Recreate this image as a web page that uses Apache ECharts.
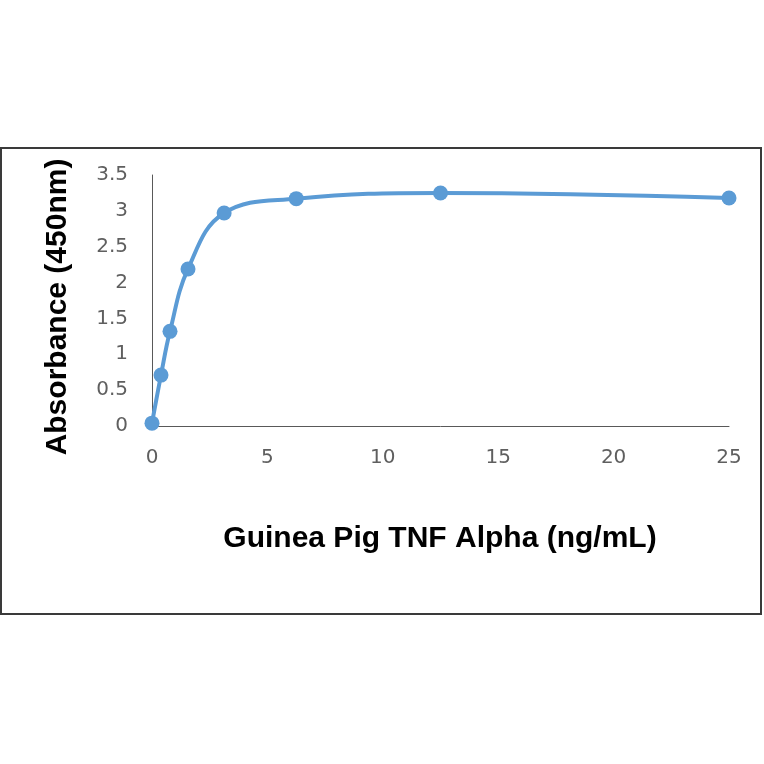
<!DOCTYPE html>
<html>
<head>
<meta charset="utf-8">
<script src="https://cdn.jsdelivr.net/npm/echarts@6/dist/echarts.min.js"></script>
<style>
  html, body { margin: 0; padding: 0; background: #fff; }
  #chart { width: 764px; height: 764px; }
</style>
</head>
<body>
<div id="chart"></div>
<script>
// concentration (ng/mL) and absorbance
const concentrations = [0, 0.39, 0.78, 1.56, 3.125, 6.25, 12.5, 25];
const absorbance = [0.04, 0.71, 1.32, 2.19, 2.97, 3.17, 3.25, 3.18];
const xTitle = 'Guinea Pig TNF Alpha (ng/mL)';
const yTitle = 'Absorbance (450nm)';

const points = concentrations.map((c, i) => [c, absorbance[i]]);

const chart = echarts.init(document.getElementById('chart'));

const tickLabel = {
  color: '#5f5f5f',
  fontFamily: 'DejaVu Sans',
  fontSize: 20,
};

const titleFont = {
  fontFamily: 'Liberation Sans',
  fontWeight: 'bold',
  fontSize: 30,
  fill: '#000',
};

chart.setOption({
  animation: false,
  graphic: [
    {
      type: 'rect',
      shape: { x: 1, y: 148, width: 760, height: 466 },
      style: { fill: 'none', stroke: '#3a3a3a', lineWidth: 2 },
      z: -1,
    },
    {
      type: 'text',
      x: 440,
      y: 539,
      style: { text: xTitle, align: 'center', verticalAlign: 'middle', ...titleFont },
    },
    {
      type: 'text',
      x: 58,
      y: 307,
      rotation: Math.PI / 2,
      style: { text: yTitle, align: 'center', verticalAlign: 'middle', ...titleFont },
    },
  ],
  grid: { left: 152, right: 35, top: 175, bottom: 338 },
  xAxis: {
    type: 'value',
    min: 0,
    max: 25,
    interval: 5,
    splitLine: { show: false },
    axisTick: { show: false },
    axisLine: { lineStyle: { color: '#595959', width: 1 } },
    axisLabel: { ...tickLabel, margin: 22 },
  },
  yAxis: {
    type: 'value',
    min: 0,
    max: 3.5,
    interval: 0.5,
    splitLine: { show: false },
    axisTick: { show: false },
    axisLine: { show: true, lineStyle: { color: '#595959', width: 1 } },
    axisLabel: { ...tickLabel, margin: 24 },
  },
  series: [
    {
      type: 'line',
      data: points,
      smooth: 0.4,
      symbol: 'circle',
      symbolSize: 15,
      lineStyle: { color: '#5B9BD5', width: 4 },
      itemStyle: { color: '#5B9BD5' },
    },
  ],
});
</script>
</body>
</html>
